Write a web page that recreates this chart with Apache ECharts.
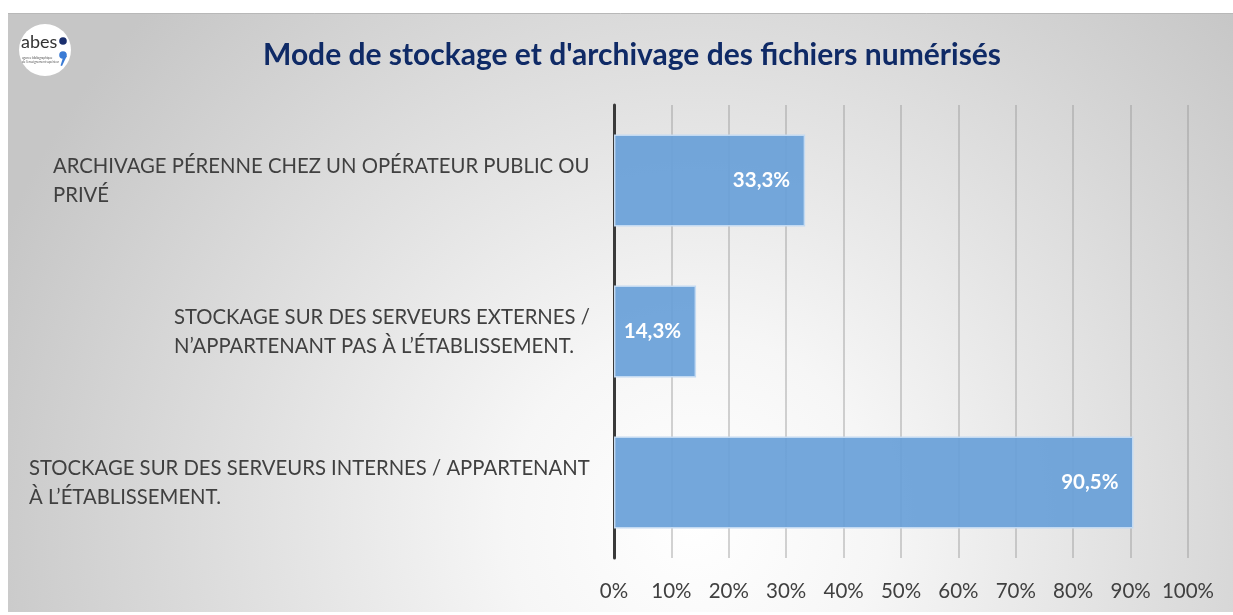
<!DOCTYPE html>
<html>
<head>
<meta charset="utf-8">
<script src="https://cdn.jsdelivr.net/npm/echarts@6/dist/echarts.min.js"></script>
<style>
  html, body { margin: 0; padding: 0; background: #fff; }
  #chart { width: 1233px; height: 615px; }
</style>
</head>
<body>
<div id="chart"></div>
<script>
// données
const titre = "Mode de stockage et d'archivage des fichiers numérisés"
const categories = [
  'ARCHIVAGE PÉRENNE CHEZ UN OPÉRATEUR PUBLIC OU\nPRIVÉ',
  'STOCKAGE SUR DES SERVEURS EXTERNES /\nN’APPARTENANT PAS À L’ÉTABLISSEMENT.',
  'STOCKAGE SUR DES SERVEURS INTERNES / APPARTENANT\nÀ L’ÉTABLISSEMENT.'
]
const valeurs = [33.3, 14.3, 90.5]
const ticks = [0, 10, 20, 30, 40, 50, 60, 70, 80, 90, 100]

const labelSize = 20.3
// largeur de la ligne la plus longue, pour aligner les lignes à gauche dans le bloc
const ctx = document.createElement('canvas').getContext('2d')
ctx.font = labelSize + 'px Lato'
const rich = {}
categories.forEach((c, i) => {
  const w = Math.max(...c.split('\n').map(l => ctx.measureText(l).width))
  rich['l' + i] = { width: Math.ceil(w), align: 'left', fontFamily: 'Lato', fontSize: labelSize, color: '#404040', lineHeight: 29 }
})

const myChart = echarts.init(document.getElementById('chart'))
myChart.setOption({
  animation: false,
  backgroundColor: '#ffffff',
  graphic: [
    {
      type: 'rect', z: -10, silent: true,
      shape: { x: 8, y: 13, width: 1225, height: 599 },
      style: {
        fill: new echarts.graphic.RadialGradient(0.56, 0.85, 1.25, [
          { offset: 0, color: '#ffffff' },
          { offset: 0.25, color: '#f6f6f6' },
          { offset: 1, color: '#c6c6c6' }
        ])
      }
    },
    { type: 'line', z: -9, silent: true, shape: { x1: 8, y1: 13.5, x2: 1233, y2: 13.5 }, style: { stroke: '#b8b8b8', lineWidth: 1 } },
    // logo abes
    { type: 'circle', shape: { cx: 45, cy: 50, r: 26 }, style: { fill: '#ffffff' } },
    { type: 'text', left: 21, top: 33, style: { text: 'abes', font: '18px Lato', fill: '#333333' } },
    { type: 'circle', shape: { cx: 63, cy: 41, r: 3.8 }, style: { fill: '#1a2f6e' } },
    { type: 'circle', shape: { cx: 63, cy: 55, r: 3.8 }, style: { fill: '#3a7bd5' } },
    { type: 'polygon', shape: { points: [[63.5, 56], [66.8, 56], [62, 66], [60.5, 65.5]] }, style: { fill: '#3a7bd5' } },
    { type: 'text', left: 22, top: 56, style: { text: 'agence bibliographique\nde l\'enseignement supérieur', font: '3px Lato', fill: '#555555', lineHeight: 4 } }
  ],
  title: {
    text: titre,
    left: 258,
    top: 35,
    textStyle: { fontFamily: 'Lato', fontWeight: 'bold', fontSize: 30, color: '#0f2a66' }
  },
  grid: { left: 614, right: 45, top: 105, bottom: 57 },
  xAxis: {
    type: 'value',
    min: 0,
    max: 100,
    interval: 10,
    axisLine: { show: false },
    axisTick: { show: false },
    splitLine: { show: true, lineStyle: { color: 'rgba(150,150,150,0.55)', width: 1.5 } },
    axisLabel: {
      margin: 23,
      fontFamily: 'Lato',
      fontSize: 20.5,
      color: '#404040',
      formatter: v => ticks.includes(v) ? v + '%' : ''
    }
  },
  yAxis: {
    type: 'category',
    inverse: true,
    data: categories,
    axisLine: { show: true, lineStyle: { color: '#3a3a3a', width: 3 } },
    axisTick: { show: false },
    axisLabel: {
      margin: 24,
      align: 'right',
      rich,
      formatter(value) {
        const i = categories.indexOf(value)
        return value.split('\n').map(l => '{l' + i + '|' + l + '}').join('\n')
      }
    }
  },
  series: [{
    type: 'bar',
    data: valeurs,
    barWidth: '61%',
    itemStyle: { color: 'rgba(104,160,216,0.92)', borderColor: '#c3daf2', borderWidth: 1.5 },
    label: {
      show: true,
      position: 'insideRight',
      distance: 15,
      fontFamily: 'Lato',
      fontWeight: 'bold',
      fontSize: 20.5,
      color: '#ffffff',
      formatter: p => p.value.toFixed(1).replace('.', ',') + '%'
    }
  }]
})
</script>
</body>
</html>
